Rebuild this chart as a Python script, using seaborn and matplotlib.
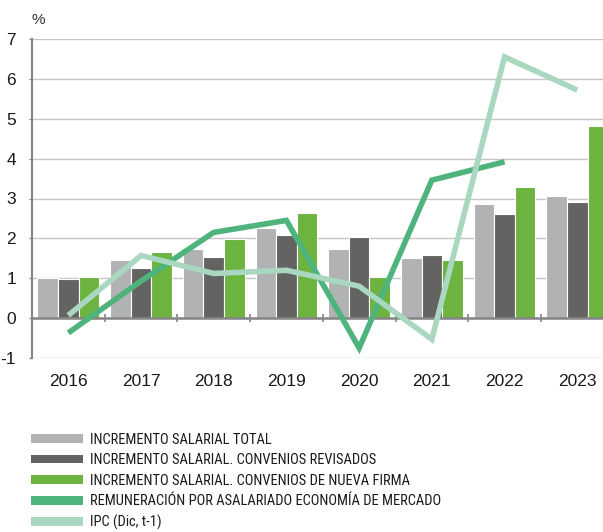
import numpy as np
import pandas as pd
import seaborn as sns
import matplotlib.pyplot as plt
from matplotlib.patches import Patch
from matplotlib import font_manager as fm

years = ['2016', '2017', '2018', '2019', '2020', '2021', '2022', '2023']
total = [1.00, 1.45, 1.73, 2.25, 1.73, 1.50, 2.86, 3.06]
revisados = [0.98, 1.25, 1.53, 2.08, 2.03, 1.58, 2.60, 2.91]
nueva_firma = [1.03, 1.65, 1.98, 2.63, 1.03, 1.45, 3.28, 4.81]
remuneracion = [-0.37, 0.93, 2.15, 2.45, -0.75, 3.46, 3.92, np.nan]
ipc = [0.07, 1.57, 1.12, 1.20, 0.80, -0.53, 6.55, 5.72]

labels = [
    'INCREMENTO SALARIAL TOTAL',
    'INCREMENTO SALARIAL. CONVENIOS REVISADOS',
    'INCREMENTO SALARIAL. CONVENIOS DE NUEVA FIRMA',
    'REMUNERACIÓN POR ASALARIADO ECONOMÍA DE MERCADO',
    'IPC (Dic, t-1)',
]
colors = ['#b1b2b4', '#636362', '#6cb33f', '#4fb37e', '#aad7c0']

sns.set_style('white')
plt.rcParams['font.family'] = ['Liberation Sans', 'DejaVu Sans']


def narrow_font():
    prefs = ['Liberation Sans Narrow', 'Roboto Condensed', 'Noto Sans Condensed',
             'Open Sans Condensed', 'DejaVu Sans Condensed', 'Arial Narrow']
    entries = fm.fontManager.ttflist
    bad = ['bold', 'light', 'semi', 'extra', 'black', 'thin', 'medium', 'italic', 'oblique', 'ultra']
    for p in prefs:
        for e in entries:
            low = e.fname.lower()
            if e.name == p and e.style == 'normal' and not any(b in low for b in bad):
                return fm.FontProperties(fname=e.fname)
    for e in entries:
        low = (e.fname).lower()
        if ('narrow' in low or 'condensed' in low) and e.style == 'normal' and not any(b in low for b in bad):
            return fm.FontProperties(fname=e.fname)
    return fm.FontProperties(family='Liberation Sans')


fig = plt.figure(figsize=(6.03, 5.32), dpi=100)
W, H = 603, 532
ax = fig.add_axes([32 / W, 1 - 358 / H, 581.6 / W, 319 / H])

bars = pd.DataFrame({
    'year': years * 3,
    'serie': [labels[0]] * 8 + [labels[1]] * 8 + [labels[2]] * 8,
    'value': total + revisados + nueva_firma,
})
sns.barplot(data=bars, x='year', y='value', hue='serie', hue_order=labels[:3],
            palette=colors[:3], width=0.85, saturation=1, edgecolor='white',
            linewidth=0.8, legend=False, ax=ax, zorder=2)

xpos = np.arange(len(years))
sns.lineplot(x=xpos, y=remuneracion, color=colors[3], lw=4, ax=ax, zorder=4,
             solid_capstyle='butt', solid_joinstyle='miter')
sns.lineplot(x=xpos, y=ipc, color=colors[4], lw=4, ax=ax, zorder=5,
             solid_capstyle='butt', solid_joinstyle='miter')

ax.set_xlim(-0.5, 7.5)
ax.set_ylim(-1, 7)
ax.set_xlabel('')
ax.set_ylabel('')
ax.set_yticks(range(-1, 8))
ax.set_yticklabels([str(v) for v in range(-1, 8)])
ax.yaxis.grid(True, color='#c6c6c6', lw=1)
ax.xaxis.grid(False)
ax.set_axisbelow(True)

for s in ['top', 'right']:
    ax.spines[s].set_visible(False)
ax.spines['bottom'].set_position(('data', 0))
ax.spines['bottom'].set_color('#858585')
ax.spines['bottom'].set_linewidth(1.8)
ax.spines['left'].set_color('#858585')
ax.spines['left'].set_linewidth(1.5)

ax.set_xticks(xpos)
ax.set_xticklabels(years)
ax.set_xticks(xpos[:-1] + 0.5, minor=True)
ax.tick_params(axis='x', which='major', length=0, pad=40, labelsize=12.5,
               labelcolor='#1a1a1a')
ax.tick_params(axis='x', which='minor', length=6, width=1.2, direction='inout',
               color='#858585', bottom=True)
ax.tick_params(axis='y', length=2.5, width=1, color='#858585', left=True,
               pad=9, labelsize=12.5, labelcolor='#1a1a1a')

fig.text(32 / W, 1 - 20 / H, '%', fontsize=11, color='#333333', va='center', ha='left')

# legend font: condensed face sized so the longest label spans ~353 px
fp = narrow_font()
fp.set_size(10.5)
renderer = fig.canvas.get_renderer()
probe = fig.text(0, 0, labels[3], fontproperties=fp)
wpx = probe.get_window_extent(renderer).width
probe.remove()
size = float(np.clip(10.5 * 353.0 / wpx, 8.5, 11.5))
fp.set_size(size)
fpx = size * 100 / 72.0

handles = [Patch(facecolor=c, edgecolor='none', label=l) for c, l in zip(colors, labels)]
fig.legend(handles=handles, loc='upper left', bbox_to_anchor=(31 / W, 1 - 432.5 / H),
           frameon=False, borderpad=0, borderaxespad=0, handlelength=52 / fpx,
           handleheight=8 / fpx, handletextpad=7 / fpx,
           labelspacing=max(0.05, (20.8 - 0.975 * fpx) / fpx),
           prop=fp, labelcolor='#1a1a1a')

fig.savefig('out.png', dpi=100)
